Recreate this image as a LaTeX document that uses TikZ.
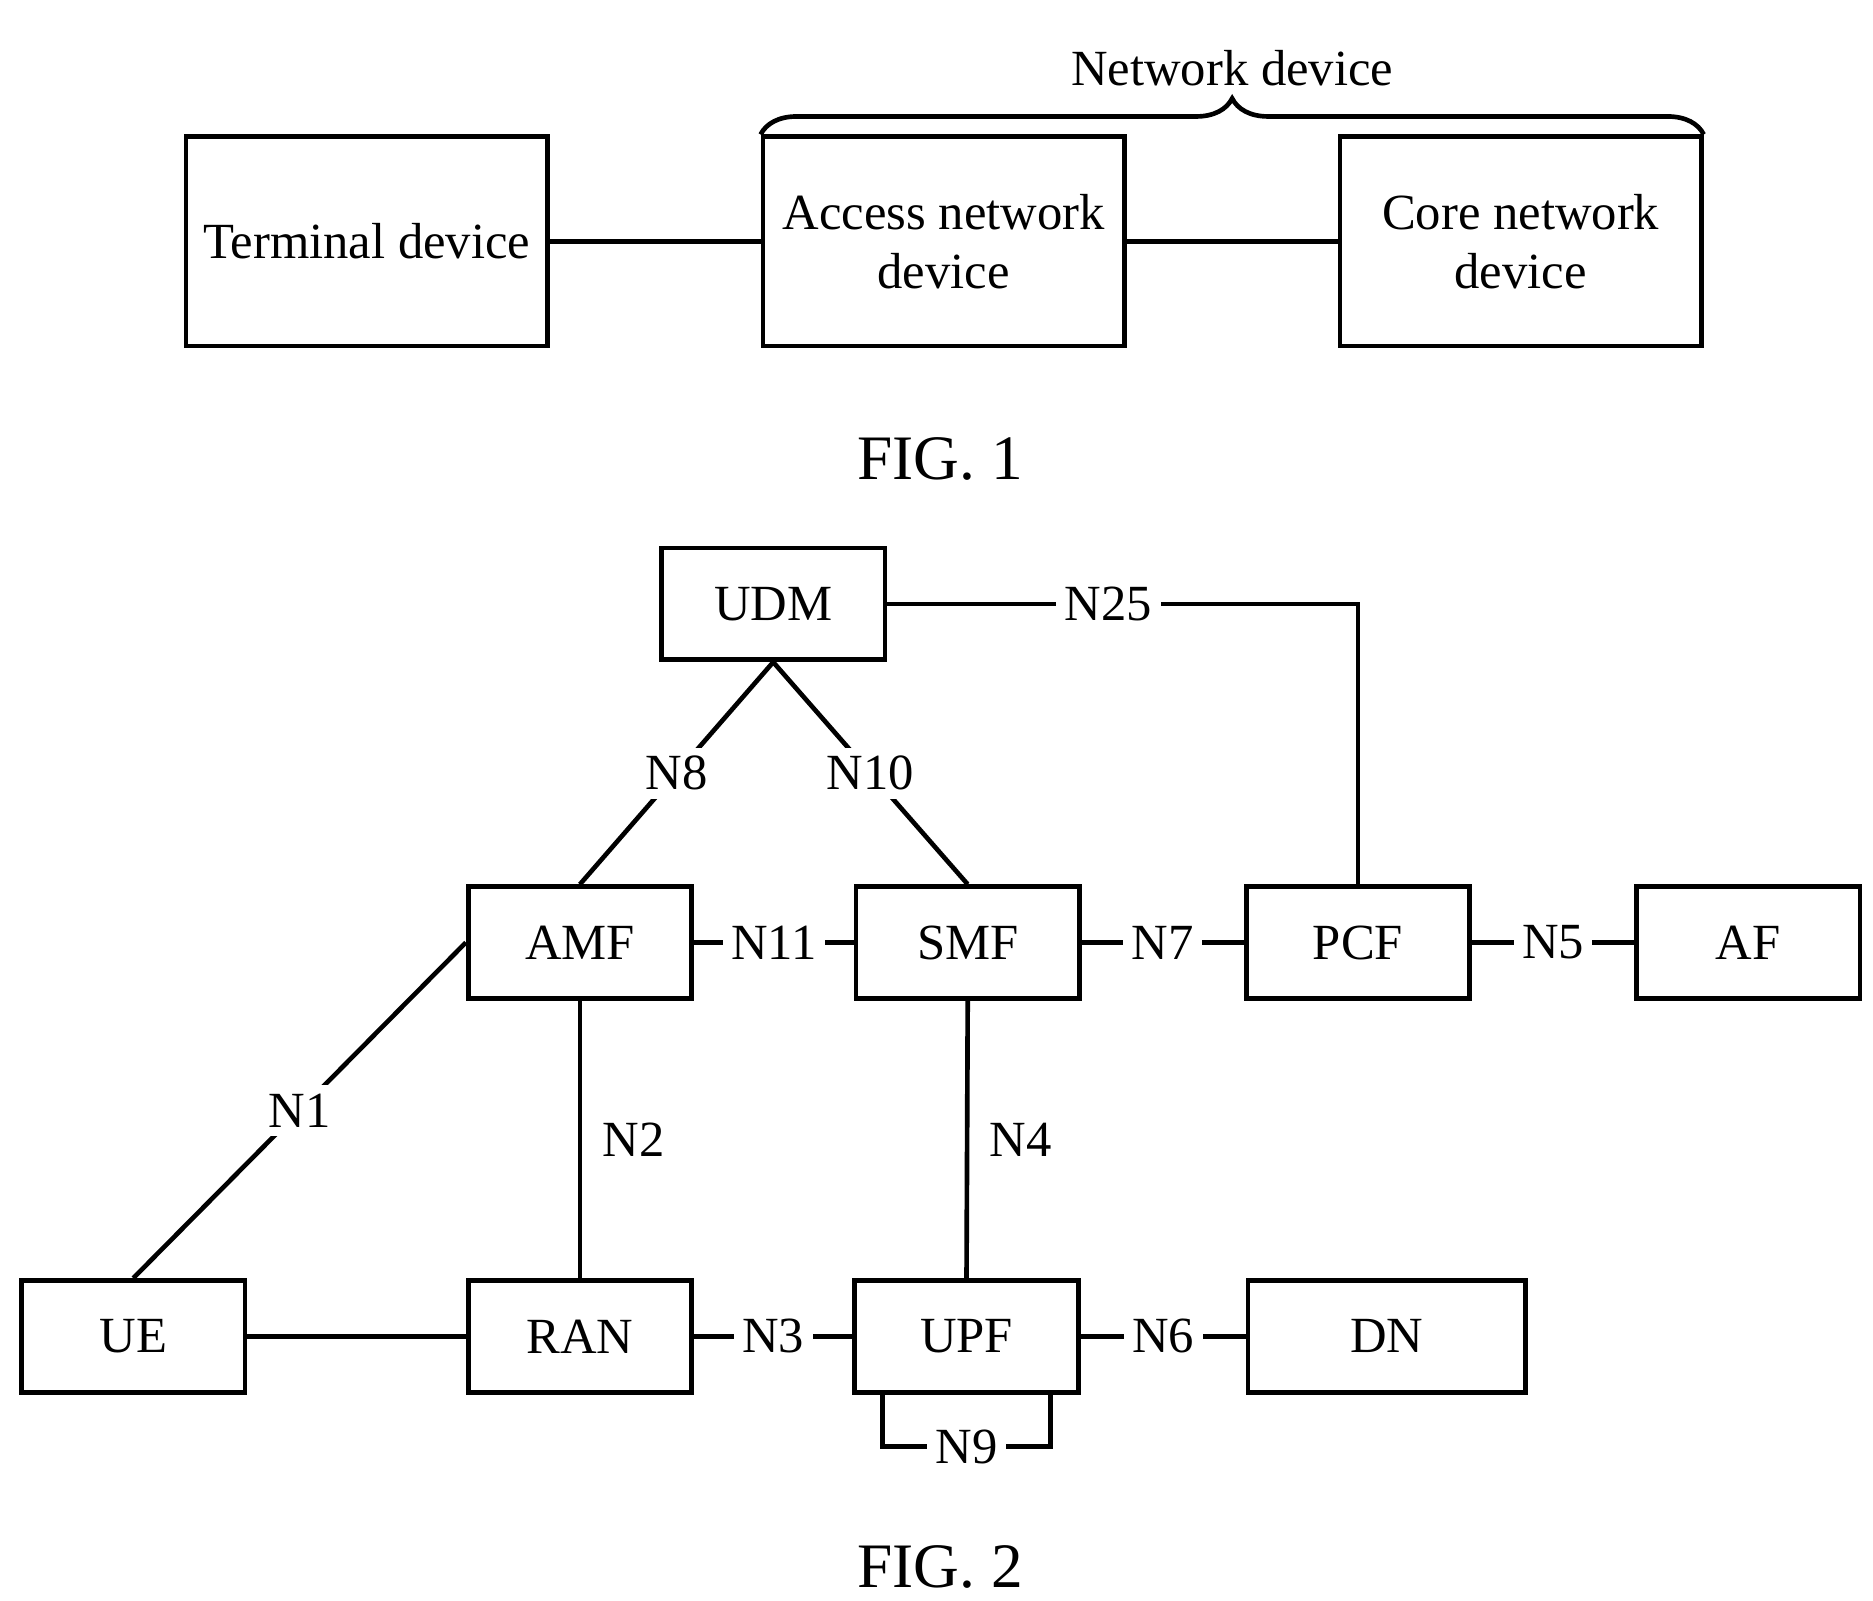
\documentclass[tikz,border=0pt]{standalone}
\usepackage{fontspec}
\setmainfont{Liberation Serif}
\usetikzlibrary{decorations.pathreplacing}
\begin{document}
\begin{tikzpicture}[x=0.01cm,y=-0.01cm,
  box/.style={draw,line width=1.1pt,minimum width=1.86cm,minimum height=0.93cm,font=\fontsize{12}{14}\selectfont},
  bigbox/.style={draw,line width=1.1pt,minimum width=3.01cm,minimum height=1.74cm,align=center,font=\fontsize{12}{14}\selectfont},
  lbl/.style={fill=white,inner sep=2pt,font=\fontsize{12}{14}\selectfont},
  link/.style={line width=1.1pt}]
  \useasboundingbox (0,0) rectangle (1560,1333);

  % FIG. 1
  \node[bigbox] (term) at (305.5,201) {Terminal device};
  \node[bigbox] (acc) at (786,201) {Access network\\device};
  \node[bigbox] (core) at (1266.5,201) {Core network\\device};
  \draw[link] (term) -- (acc);
  \draw[link] (acc) -- (core);
  \draw[link,decorate,decoration={brace,amplitude=0.3cm}] (acc.north west) -- (core.north east)
    node[midway,yshift=0.55cm,font=\fontsize{12}{14}\selectfont] (netlbl) {Network device};
  \node[font=\fontsize{15}{17}\selectfont] (fig1) at (783,382) {FIG. 1};

  % FIG. 2 boxes
  \node[box] (udm) at (644,503) {UDM};
  \node[box] (amf) at (483,785) {AMF};
  \node[box] (smf) at (806,785) {SMF};
  \node[box] (pcf) at (1131,785) {PCF};
  \node[box] (af) at (1456,785) {AF};
  \node[box] (ue) at (111,1113) {UE};
  \node[box] (ran) at (483,1113) {RAN};
  \node[box] (upf) at (805,1113) {UPF};
  \node[box,minimum width=2.31cm] (dn) at (1155,1113) {DN};

  % connectors
  \draw[link] (udm.east) -- (1131,503) node[lbl,pos=0.47] {N25} -- (pcf.north);
  \draw[link] (udm.south) -- (amf.north) node[lbl,midway] {N8};
  \draw[link] (udm.south) -- (smf.north) node[lbl,midway] {N10};
  \draw[link] (amf) -- (smf) node[lbl,midway] {N11};
  \draw[link] (smf) -- (pcf) node[lbl,midway] {N7};
  \draw[link] (pcf) -- (af) node[lbl,midway] {N5};
  \draw[link] (amf.north west |- amf.west) -- (ue.north) node[lbl,midway] {N1};
  \draw[link] (amf.south) -- (ran.north) node[lbl,midway,right=0.1cm] {N2};
  \draw[link] (smf.south) -- (upf.north) node[lbl,midway,right=0.1cm] {N4};
  \draw[link] (ue) -- (ran);
  \draw[link] (ran) -- (upf) node[lbl,midway] {N3};
  \draw[link] (upf) -- (dn) node[lbl,midway] {N6};
  \draw[link] (735,1159) -- (735,1205) -- (875,1205) node[lbl,midway] {N9} -- (875,1159);

  \node[font=\fontsize{15}{17}\selectfont] (fig2) at (783,1305) {FIG. 2};
\end{tikzpicture}
\end{document}
